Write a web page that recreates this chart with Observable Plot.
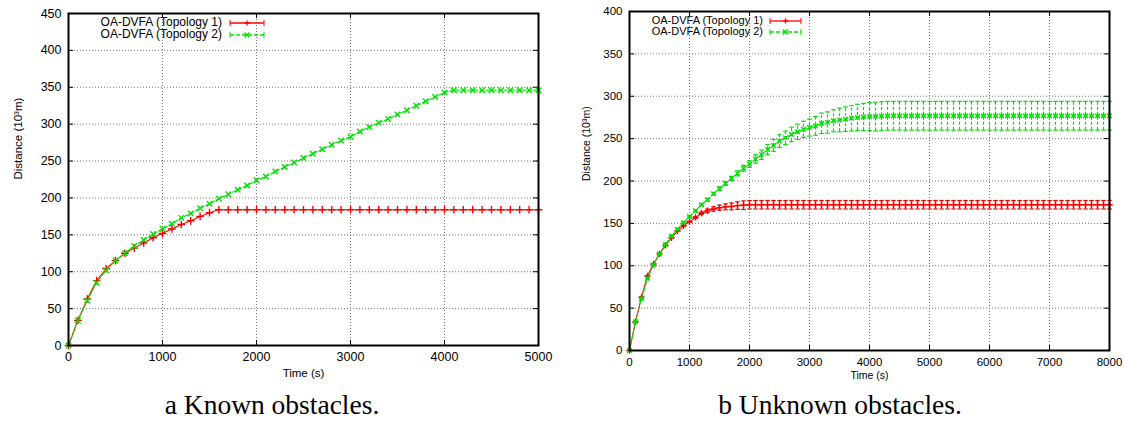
<!DOCTYPE html>
<html><head><meta charset="utf-8">
<script src="https://cdn.jsdelivr.net/npm/d3@7"></script>
<script src="https://cdn.jsdelivr.net/npm/@observablehq/plot@0.6"></script>
<style>
body{margin:0;background:#fff;}
#wrap{position:relative;width:1124px;height:431px;overflow:hidden;background:#fff;}
.panel{position:absolute;top:0;}
.cap{position:absolute;font-family:"Liberation Serif","DejaVu Serif",serif;font-size:27.5px;line-height:30px;text-align:center;top:390px;width:440px;color:#000;}
</style></head><body>
<div id="wrap"></div>
<script>
// ---------- data ----------
const seriesNames = ["OA-DVFA (Topology 1)", "OA-DVFA (Topology 2)"];
const captions = ["a Known obstacles.", "b Unknown obstacles."];
const xLabel = "Time (s)";
const yLabel = "Distance (10³m)";

const leftXTicks = [0,1000,2000,3000,4000,5000];
const leftYTicks = [0,50,100,150,200,250,300,350,400,450];
const rightXTicks = [0,1000,2000,3000,4000,5000,6000,7000,8000];
const rightYTicks = [0,50,100,150,200,250,300,350,400];

const leftTime = [0,100,200,300,400,500,600,700,800,900,1000,1100,1200,1300,1400,1500,1600,1700,1800,1900,2000,2100,2200,2300,2400,2500,2600,2700,2800,2900,3000,3100,3200,3300,3400,3500,3600,3700,3800,3900,4000,4100,4200,4300,4400,4500,4600,4700,4800,4900,5000];
const leftTopo1 = [0,34,63,88,104,115,125,132,139,146,152,158,164,169,175,180,184,184,184,184,184,184,184,184,184,184,184,184,184,184,184,184,184,184,184,184,184,184,184,184,184,184,184,184,184,184,184,184,184,184,184];
const leftTopo2 = [0,34,61,85,102,115,125,135,143,151,158,165,173,179,186,192,199,205,211,217,224,229,236,242,248,254,260,266,272,278,283,290,296,302,307,313,319,325,331,337,343,346,346,346,346,346,346,346,346,346,346];

const rightTime = [0,100,200,300,400,500,600,700,800,900,1000,1100,1200,1300,1400,1500,1600,1700,1800,1900,2000,2100,2200,2300,2400,2500,2600,2700,2800,2900,3000,3100,3200,3300,3400,3500,3600,3700,3800,3900,4000,4100,4200,4300,4400,4500,4600,4700,4800,4900,5000,5100,5200,5300,5400,5500,5600,5700,5800,5900,6000,6100,6200,6300,6400,6500,6600,6700,6800,6900,7000,7100,7200,7300,7400,7500,7600,7700,7800,7900,8000];
const rightTopo1 = [0,34,63,88,102,114,124,133,141,147,152,157,162,165,167,168.5,169.5,170,171,171.5,172,172,172,172,172,172,172,172,172,172,172,172,172,172,172,172,172,172,172,172,172,172,172,172,172,172,172,172,172,172,172,172,172,172,172,172,172,172,172,172,172,172,172,172,172,172,172,172,172,172,172,172,172,172,172,172,172,172,172,172,172];
const rightErr1 = [0,0.5,0.5,0.5,0.5,0.5,0.5,0.5,0.5,0.5,0.5,1,1.5,2,2.5,3,3.5,4,4.5,5,5,5,5,5,5,5,5,5,5,5,5,5,5,5,5,5,5,5,5,5,5,5,5,5,5,5,5,5,5,5,5,5,5,5,5,5,5,5,5,5,5,5,5,5,5,5,5,5,5,5,5,5,5,5,5,5,5,5,5,5,5];
const rightTopo2 = [0,34,61,85,101,114,125,135,143,151,158,165,172,178,185,191,197,203,209,215,220,226,231,237,242,247,251,255,258,261,263,265,268,269,271,272,273,274,275,275.5,276,276,276.5,277,277,277,277,277,277,277,277,277,277,277,277,277,277,277,277,277,277,277,277,277,277,277,277,277,277,277,277,277,277,277,277,277,277,277,277,277,277];
const rightErr2 = [0,0.5,0.5,0.5,0.5,0.5,0.5,0.5,0.5,0.5,0.5,1,1,1.5,1.5,2,2,2.5,3,3.5,4,5,5.5,6,7,7.5,8,8.5,9,9.5,10,11,12,12.5,13,14,14.5,15,15.5,16,16.5,17,17,17,17,17,17,17,17,17,17,17,17,17,17,17,17,17,17,17,17,17,17,17,17,17,17,17,17,17,17,17,17,17,17,17,17,17,17,17,17];

const colors = ["#ff0000", "#00e000"];

// ---------- helpers ----------
const capSymbol = {draw(ctx){ ctx.moveTo(-2.3,0); ctx.lineTo(2.3,0); }};

function rows(time, vals, errs){
  return time.map((t,i)=>({t, v: vals[i], e: errs ? errs[i] : 0}));
}

function chart(cfg){
  const {width, height, ml, mr, mt, mb, xMax, yMax, xTicks, yTicks, series, fs, yLabelDx, xLabelDy, markR} = cfg;
  const W = width - ml - mr, H = height - mt - mb;
  const marks = [
    Plot.gridY(yTicks, {stroke:"#777", strokeOpacity:1, strokeDasharray:"1,2", strokeWidth:1}),
    Plot.gridX(xTicks, {stroke:"#777", strokeOpacity:1, strokeDasharray:"1,2", strokeWidth:1}),
    Plot.gridY(yTicks, {stroke:"#000", strokeOpacity:1, strokeDasharray:`5,${W-10},5`, strokeWidth:1}),
    Plot.gridX(xTicks, {stroke:"#000", strokeOpacity:1, strokeDasharray:`5,${H-10},5`, strokeWidth:1})
  ];
  series.forEach((s, k) => {
    const data = s.data;
    const eb = data.filter(d => d.e > 0);
    if (eb.length) {
      marks.push(Plot.ruleX(eb, {x:"t", y1:d=>d.v-d.e, y2:d=>d.v+d.e, stroke:colors[k], strokeWidth:1.2, strokeDasharray: k ? "3,2" : null}));
      marks.push(Plot.dot(eb, {x:"t", y:d=>d.v+d.e, symbol:capSymbol, stroke:colors[k], r:2, strokeWidth:1.2}));
      marks.push(Plot.dot(eb, {x:"t", y:d=>d.v-d.e, symbol:capSymbol, stroke:colors[k], r:2, strokeWidth:1.2}));
    }
    marks.push(Plot.line(data, {x:"t", y:"v", stroke:colors[k], strokeWidth:1.1, strokeDasharray: k ? "4,2" : null}));
    marks.push(Plot.dot(data, {x:"t", y:"v", stroke:colors[k], symbol: k ? "times" : "plus", r: markR, strokeWidth:1.4}));
  });
  marks.push(Plot.frame({stroke:"#000", strokeWidth:2}));
  marks.push(Plot.axisX({ticks:xTicks, tickSize:0, tickPadding:7, label:null, fontSize:fs, tickFormat:d3.format("d")}));
  marks.push(Plot.axisY({ticks:yTicks, tickSize:0, tickPadding:7, label:null, fontSize:fs, tickFormat:d3.format("d")}));
  marks.push(Plot.text([xLabel], {text:d=>d, frameAnchor:"bottom", dy:xLabelDy, fontSize:fs-1}));
  marks.push(Plot.text([yLabel], {text:d=>d, frameAnchor:"left", rotate:-90, dx:yLabelDx, fontSize:fs-1}));
  return Plot.plot({
    width, height, marginLeft:ml, marginRight:mr, marginTop:mt, marginBottom:mb,
    x:{domain:[0,xMax]}, y:{domain:[0,yMax]},
    style:{fontFamily:"'Liberation Sans', Arial, sans-serif", background:"transparent", overflow:"visible", color:"#000"},
    marks
  });
}

function legend(svg, cfg){
  const g = d3.select(svg).append("g");
  cfg.rows.forEach((yy, k) => {
    g.append("text").attr("x", cfg.textEnd).attr("y", yy).attr("text-anchor","end").attr("dominant-baseline","middle")
      .attr("font-size", cfg.fs).attr("font-family","'Liberation Sans', Arial, sans-serif").attr("fill","#000").text(seriesNames[k]);
    const x0 = cfg.x0, x1 = cfg.x1, xm = (x0+x1)/2;
    g.append("line").attr("x1",x0).attr("x2",x1).attr("y1",yy).attr("y2",yy).attr("stroke",colors[k]).attr("stroke-width",1.3)
      .attr("stroke-dasharray", k ? "4,2" : null);
    [x0, x1].forEach(xx => g.append("line").attr("x1",xx).attr("x2",xx).attr("y1",yy-3).attr("y2",yy+3).attr("stroke",colors[k]).attr("stroke-width",1));
    const r = 2.5;
    if (k === 0) {
      g.append("path").attr("d",`M${xm-r},${yy}H${xm+r}M${xm},${yy-r}V${yy+r}`).attr("stroke",colors[k]).attr("stroke-width",1.3);
    } else {
      g.append("path").attr("d",`M${xm-r},${yy-r}L${xm+r},${yy+r}M${xm-r},${yy+r}L${xm+r},${yy-r}`).attr("stroke",colors[k]).attr("stroke-width",1.3);
    }
  });
}

const wrap = document.getElementById("wrap");

const left = chart({
  width:560, height:390, ml:68, mr:22, mt:13, mb:45, xMax:5000, yMax:450,
  xTicks:leftXTicks, yTicks:leftYTicks, fs:12.5, yLabelDx:-50, xLabelDy:31, markR:2.6,
  series:[{data:rows(leftTime,leftTopo1)}, {data:rows(leftTime,leftTopo2)}]
});
legend(left, {rows:[23,35], textEnd:222, x0:230, x1:264, fs:12});
const lp = document.createElement("div"); lp.className="panel"; lp.style.left="0px"; lp.appendChild(left); wrap.appendChild(lp);

const right = chart({
  width:564, height:390, ml:69, mr:15, mt:11, mb:40, xMax:8000, yMax:400,
  xTicks:rightXTicks, yTicks:rightYTicks, fs:11.5, yLabelDx:-43, xLabelDy:28, markR:2.2,
  series:[{data:rows(rightTime,rightTopo1,rightErr1)}, {data:rows(rightTime,rightTopo2,rightErr2)}]
});
legend(right, {rows:[21,32], textEnd:203, x0:210, x1:241, fs:11});
const rp = document.createElement("div"); rp.className="panel"; rp.style.left="560px"; rp.appendChild(right); wrap.appendChild(rp);

[[captions[0], 52], [captions[1], 620]].forEach(([t, x]) => {
  const d = document.createElement("div"); d.className="cap"; d.style.left = x+"px"; d.textContent = t; wrap.appendChild(d);
});
</script>
</body></html>
